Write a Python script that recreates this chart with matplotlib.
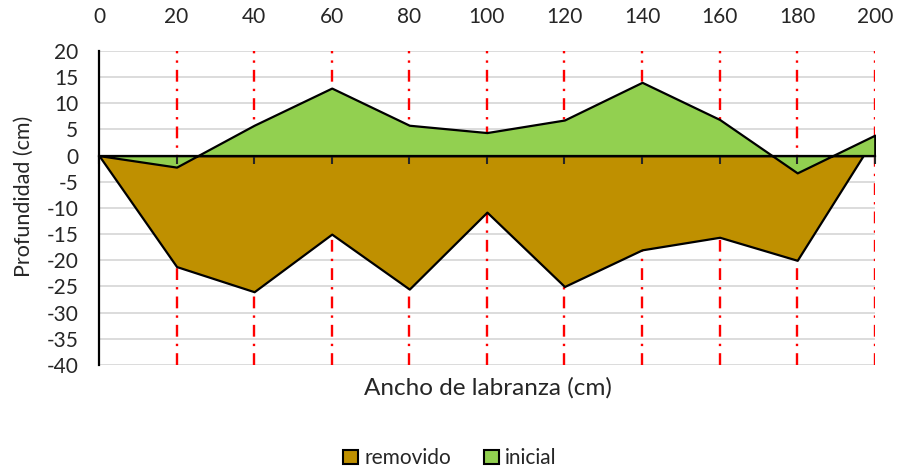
import matplotlib
matplotlib.use("Agg")
import matplotlib.pyplot as plt
from matplotlib.patches import Patch

plt.rcParams['font.family'] = ['Lato', 'DejaVu Sans']
plt.rcParams['axes.unicode_minus'] = False

# Data
x_inicial = [0, 20, 40, 60, 80, 100, 120, 140, 160, 180, 200]
y_inicial = [0, -2.2, 5.8, 12.9, 5.8, 4.4, 6.8, 14, 6.9, -3.3, 3.9]

x_removido = [0, 20, 40, 60, 80, 100, 120, 140, 160, 180, 197]
y_removido = [0, -21.2, -26, -15, -25.5, -10.8, -25, -18, -15.6, -20, 0]

x_ticks = list(range(0, 201, 20))
y_ticks = list(range(-40, 21, 5))

brown = "#BF9000"
green = "#92D050"

fig = plt.figure(figsize=(9, 4.67), dpi=100)
ax = fig.add_axes([0.11, 0.2184, 0.862, 0.6726])

# gridlines, drawn behind the areas
for yv in y_ticks:
    ax.axhline(yv, color="#d9d9d9", lw=1.3, zorder=0.3)
for xv in x_ticks[1:]:
    ax.axvline(xv, color="#ff0000", lw=1.7, zorder=0.5,
               linestyle=(0, (5, 3, 1, 3)))

ax.fill_between(x_removido, y_removido, 0, facecolor=brown,
                edgecolor="black", lw=1.6, zorder=1)
ax.fill_between(x_inicial, y_inicial, 0, facecolor=green,
                edgecolor="black", lw=1.6, zorder=1.1)

ax.set_xlim(0, 200)
ax.set_ylim(-40, 20)
ax.set_xticks(x_ticks)
ax.set_yticks(y_ticks)

for s in ["top", "right"]:
    ax.spines[s].set_visible(False)
ax.spines["bottom"].set_position(("data", 0))
ax.spines["bottom"].set_linewidth(1.6)
ax.spines["left"].set_linewidth(1.6)
ax.spines["bottom"].set_zorder(3)
ax.spines["left"].set_zorder(3)

ax.tick_params(axis="x", which="both", bottom=True, top=False,
               labelbottom=False, labeltop=True, direction="out",
               length=6, width=1.5, pad=11, labelsize=15, colors="#262626")
ax.tick_params(axis="y", length=0, pad=15, labelsize=15, colors="#262626")

fig.text(0.026, 0.58, "Profundidad (cm)", ha="center", va="center",
         rotation=90, fontsize=15.5, color="#262626")
fig.text(0.542, 0.169, "Ancho de labranza (cm)", ha="center", va="center",
         fontsize=17.5, color="#262626")

handles = [Patch(facecolor=brown, edgecolor="black", lw=1.5, label="removido"),
           Patch(facecolor=green, edgecolor="black", lw=1.5, label="inicial")]
fig.legend(handles=handles, loc="center", bbox_to_anchor=(0.5, 0.019),
           ncol=2, frameon=False, fontsize=15, handlelength=0.7,
           handleheight=0.7, handletextpad=0.3, columnspacing=1.6,
           labelcolor="#262626")

fig.savefig("out.png", dpi=100)
